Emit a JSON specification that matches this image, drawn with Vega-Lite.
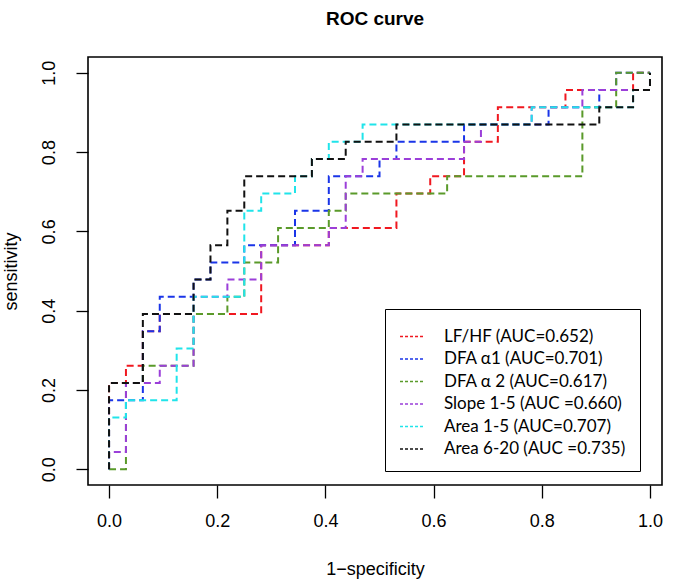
{
  "$schema": "https://vega.github.io/schema/vega-lite/v6.json",
  "autosize": "none",
  "padding": {"left": 88, "top": 57, "right": 13, "bottom": 94},
  "width": 574,
  "height": 428,
  "background": "white",
  "title": {"text": "ROC curve", "font": "Liberation Sans", "fontSize": 19, "fontWeight": "bold", "color": "black", "offset": 28},
  "data": {"values": [
    {"s": "LF/HF (AUC=0.652)", "o": 0, "x": 0, "y": 0},
    {"s": "LF/HF (AUC=0.652)", "o": 1, "x": 0, "y": 0.2174},
    {"s": "LF/HF (AUC=0.652)", "o": 2, "x": 0.03125, "y": 0.2609},
    {"s": "LF/HF (AUC=0.652)", "o": 3, "x": 0.0625, "y": 0.3478},
    {"s": "LF/HF (AUC=0.652)", "o": 4, "x": 0.09375, "y": 0.3913},
    {"s": "LF/HF (AUC=0.652)", "o": 5, "x": 0.28125, "y": 0.5652},
    {"s": "LF/HF (AUC=0.652)", "o": 6, "x": 0.40625, "y": 0.6087},
    {"s": "LF/HF (AUC=0.652)", "o": 7, "x": 0.53125, "y": 0.6957},
    {"s": "LF/HF (AUC=0.652)", "o": 8, "x": 0.59375, "y": 0.7391},
    {"s": "LF/HF (AUC=0.652)", "o": 9, "x": 0.65625, "y": 0.8261},
    {"s": "LF/HF (AUC=0.652)", "o": 10, "x": 0.71875, "y": 0.913},
    {"s": "LF/HF (AUC=0.652)", "o": 11, "x": 0.84375, "y": 0.9565},
    {"s": "LF/HF (AUC=0.652)", "o": 12, "x": 0.96875, "y": 1},
    {"s": "LF/HF (AUC=0.652)", "o": 13, "x": 1, "y": 1},

    {"s": "DFA α1 (AUC=0.701)", "o": 0, "x": 0, "y": 0},
    {"s": "DFA α1 (AUC=0.701)", "o": 1, "x": 0, "y": 0.1739},
    {"s": "DFA α1 (AUC=0.701)", "o": 2, "x": 0.0625, "y": 0.3478},
    {"s": "DFA α1 (AUC=0.701)", "o": 3, "x": 0.09375, "y": 0.4348},
    {"s": "DFA α1 (AUC=0.701)", "o": 4, "x": 0.15625, "y": 0.4783},
    {"s": "DFA α1 (AUC=0.701)", "o": 5, "x": 0.1875, "y": 0.5217},
    {"s": "DFA α1 (AUC=0.701)", "o": 6, "x": 0.25, "y": 0.5652},
    {"s": "DFA α1 (AUC=0.701)", "o": 7, "x": 0.34375, "y": 0.6522},
    {"s": "DFA α1 (AUC=0.701)", "o": 8, "x": 0.40625, "y": 0.7391},
    {"s": "DFA α1 (AUC=0.701)", "o": 9, "x": 0.5, "y": 0.7826},
    {"s": "DFA α1 (AUC=0.701)", "o": 10, "x": 0.53125, "y": 0.8261},
    {"s": "DFA α1 (AUC=0.701)", "o": 11, "x": 0.65625, "y": 0.8696},
    {"s": "DFA α1 (AUC=0.701)", "o": 12, "x": 0.8125, "y": 0.913},
    {"s": "DFA α1 (AUC=0.701)", "o": 13, "x": 0.90625, "y": 0.9565},
    {"s": "DFA α1 (AUC=0.701)", "o": 14, "x": 0.9375, "y": 1},
    {"s": "DFA α1 (AUC=0.701)", "o": 15, "x": 1, "y": 1},

    {"s": "DFA α 2 (AUC=0.617)", "o": 0, "x": 0, "y": 0},
    {"s": "DFA α 2 (AUC=0.617)", "o": 1, "x": 0.03125, "y": 0.2174},
    {"s": "DFA α 2 (AUC=0.617)", "o": 2, "x": 0.0625, "y": 0.2609},
    {"s": "DFA α 2 (AUC=0.617)", "o": 3, "x": 0.15625, "y": 0.3913},
    {"s": "DFA α 2 (AUC=0.617)", "o": 4, "x": 0.21875, "y": 0.4348},
    {"s": "DFA α 2 (AUC=0.617)", "o": 5, "x": 0.25, "y": 0.5217},
    {"s": "DFA α 2 (AUC=0.617)", "o": 6, "x": 0.3125, "y": 0.6087},
    {"s": "DFA α 2 (AUC=0.617)", "o": 7, "x": 0.40625, "y": 0.6522},
    {"s": "DFA α 2 (AUC=0.617)", "o": 8, "x": 0.4375, "y": 0.6957},
    {"s": "DFA α 2 (AUC=0.617)", "o": 9, "x": 0.625, "y": 0.7391},
    {"s": "DFA α 2 (AUC=0.617)", "o": 10, "x": 0.875, "y": 0.913},
    {"s": "DFA α 2 (AUC=0.617)", "o": 11, "x": 0.9375, "y": 1},
    {"s": "DFA α 2 (AUC=0.617)", "o": 12, "x": 1, "y": 1},

    {"s": "Slope 1-5 (AUC =0.660)", "o": 0, "x": 0, "y": 0},
    {"s": "Slope 1-5 (AUC =0.660)", "o": 1, "x": 0, "y": 0.0435},
    {"s": "Slope 1-5 (AUC =0.660)", "o": 2, "x": 0.03125, "y": 0.2174},
    {"s": "Slope 1-5 (AUC =0.660)", "o": 3, "x": 0.09375, "y": 0.2609},
    {"s": "Slope 1-5 (AUC =0.660)", "o": 4, "x": 0.15625, "y": 0.4348},
    {"s": "Slope 1-5 (AUC =0.660)", "o": 5, "x": 0.21875, "y": 0.4783},
    {"s": "Slope 1-5 (AUC =0.660)", "o": 6, "x": 0.28125, "y": 0.5652},
    {"s": "Slope 1-5 (AUC =0.660)", "o": 7, "x": 0.40625, "y": 0.6087},
    {"s": "Slope 1-5 (AUC =0.660)", "o": 8, "x": 0.4375, "y": 0.7391},
    {"s": "Slope 1-5 (AUC =0.660)", "o": 9, "x": 0.46875, "y": 0.7826},
    {"s": "Slope 1-5 (AUC =0.660)", "o": 10, "x": 0.65625, "y": 0.8261},
    {"s": "Slope 1-5 (AUC =0.660)", "o": 11, "x": 0.6875, "y": 0.8696},
    {"s": "Slope 1-5 (AUC =0.660)", "o": 12, "x": 0.78125, "y": 0.913},
    {"s": "Slope 1-5 (AUC =0.660)", "o": 13, "x": 0.875, "y": 0.9565},
    {"s": "Slope 1-5 (AUC =0.660)", "o": 14, "x": 1, "y": 1},

    {"s": "Area 1-5 (AUC=0.707)", "o": 0, "x": 0, "y": 0},
    {"s": "Area 1-5 (AUC=0.707)", "o": 1, "x": 0, "y": 0.1304},
    {"s": "Area 1-5 (AUC=0.707)", "o": 2, "x": 0.03125, "y": 0.1739},
    {"s": "Area 1-5 (AUC=0.707)", "o": 3, "x": 0.125, "y": 0.3043},
    {"s": "Area 1-5 (AUC=0.707)", "o": 4, "x": 0.15625, "y": 0.4348},
    {"s": "Area 1-5 (AUC=0.707)", "o": 5, "x": 0.25, "y": 0.6522},
    {"s": "Area 1-5 (AUC=0.707)", "o": 6, "x": 0.28125, "y": 0.6957},
    {"s": "Area 1-5 (AUC=0.707)", "o": 7, "x": 0.34375, "y": 0.7391},
    {"s": "Area 1-5 (AUC=0.707)", "o": 8, "x": 0.375, "y": 0.7826},
    {"s": "Area 1-5 (AUC=0.707)", "o": 9, "x": 0.40625, "y": 0.8261},
    {"s": "Area 1-5 (AUC=0.707)", "o": 10, "x": 0.46875, "y": 0.8696},
    {"s": "Area 1-5 (AUC=0.707)", "o": 11, "x": 0.78125, "y": 0.913},
    {"s": "Area 1-5 (AUC=0.707)", "o": 12, "x": 0.96875, "y": 0.9565},
    {"s": "Area 1-5 (AUC=0.707)", "o": 13, "x": 1, "y": 1},

    {"s": "Area 6-20 (AUC =0.735)", "o": 0, "x": 0, "y": 0},
    {"s": "Area 6-20 (AUC =0.735)", "o": 1, "x": 0, "y": 0.2174},
    {"s": "Area 6-20 (AUC =0.735)", "o": 2, "x": 0.0625, "y": 0.3913},
    {"s": "Area 6-20 (AUC =0.735)", "o": 3, "x": 0.15625, "y": 0.4783},
    {"s": "Area 6-20 (AUC =0.735)", "o": 4, "x": 0.1875, "y": 0.5652},
    {"s": "Area 6-20 (AUC =0.735)", "o": 5, "x": 0.21875, "y": 0.6522},
    {"s": "Area 6-20 (AUC =0.735)", "o": 6, "x": 0.25, "y": 0.7391},
    {"s": "Area 6-20 (AUC =0.735)", "o": 7, "x": 0.375, "y": 0.7826},
    {"s": "Area 6-20 (AUC =0.735)", "o": 8, "x": 0.4375, "y": 0.8261},
    {"s": "Area 6-20 (AUC =0.735)", "o": 9, "x": 0.53125, "y": 0.8696},
    {"s": "Area 6-20 (AUC =0.735)", "o": 10, "x": 0.90625, "y": 0.913},
    {"s": "Area 6-20 (AUC =0.735)", "o": 11, "x": 0.96875, "y": 0.9565},
    {"s": "Area 6-20 (AUC =0.735)", "o": 12, "x": 1, "y": 1}
  ]},
  "encoding": {
    "x": {"field": "x", "type": "quantitative", "scale": {"domain": [-0.0389, 1.0222], "nice": false, "zero": false},
      "axis": {"values": [0, 0.2, 0.4, 0.6, 0.8, 1.0], "format": ".1f", "title": "1−specificity", "tickSize": 13, "labelPadding": 14, "titlePadding": 30}},
    "y": {"field": "y", "type": "quantitative", "scale": {"domain": [-0.04, 1.04], "nice": false, "zero": false},
      "axis": {"values": [0, 0.2, 0.4, 0.6, 0.8, 1.0], "format": ".1f", "title": "sensitivity", "tickSize": 12, "labelAngle": -90, "labelAlign": "center", "labelBaseline": "alphabetic", "labelPadding": 22, "titlePadding": 20}},
    "color": {"field": "s", "type": "nominal",
      "scale": {"domain": ["LF/HF (AUC=0.652)", "DFA α1 (AUC=0.701)", "DFA α 2 (AUC=0.617)", "Slope 1-5 (AUC =0.660)", "Area 1-5 (AUC=0.707)", "Area 6-20 (AUC =0.735)"],
                "range": ["#f01820", "#1a35e8", "#5a9a2a", "#9b3fd9", "#20e4ea", "#111111"]},
      "legend": {"orient": "none", "legendX": 297, "legendY": 252, "title": null, "symbolType": "stroke", "symbolDash": [3, 2], "symbolStrokeWidth": 1.3, "symbolSize": 625, "labelFont": "Lato", "labelFontSize": 17, "labelColor": "black", "labelOffset": 18, "rowPadding": 0.5, "padding": 14, "strokeColor": "black", "fillColor": "white", "labelLimit": 300}},
    "order": {"field": "o", "type": "quantitative"}
  },
  "layer": [
    {"transform": [{"filter": "datum.s === 'LF/HF (AUC=0.652)'"}], "mark": {"type": "line", "interpolate": "step-after", "strokeDash": [7, 4], "strokeWidth": 2}},
    {"transform": [{"filter": "datum.s === 'DFA α1 (AUC=0.701)'"}], "mark": {"type": "line", "interpolate": "step-after", "strokeDash": [7, 4], "strokeWidth": 2}},
    {"transform": [{"filter": "datum.s === 'DFA α 2 (AUC=0.617)'"}], "mark": {"type": "line", "interpolate": "step-after", "strokeDash": [7, 4], "strokeWidth": 2}},
    {"transform": [{"filter": "datum.s === 'Slope 1-5 (AUC =0.660)'"}], "mark": {"type": "line", "interpolate": "step-after", "strokeDash": [7, 4], "strokeWidth": 2}},
    {"transform": [{"filter": "datum.s === 'Area 1-5 (AUC=0.707)'"}], "mark": {"type": "line", "interpolate": "step-after", "strokeDash": [7, 4], "strokeWidth": 2}},
    {"transform": [{"filter": "datum.s === 'Area 6-20 (AUC =0.735)'"}], "mark": {"type": "line", "interpolate": "step-after", "strokeDash": [7, 4], "strokeWidth": 2}}
  ],
  "config": {
    "view": {"stroke": "black", "strokeWidth": 1.6},
    "font": "Liberation Sans",
    "axis": {"grid": false, "domain": false, "ticks": true, "tickColor": "black", "tickWidth": 1.3,
      "labelFont": "Liberation Sans", "labelFontSize": 18, "labelColor": "black",
      "titleFont": "Liberation Sans", "titleFontSize": 18, "titleFontWeight": "normal", "titleColor": "black"}
  }
}
